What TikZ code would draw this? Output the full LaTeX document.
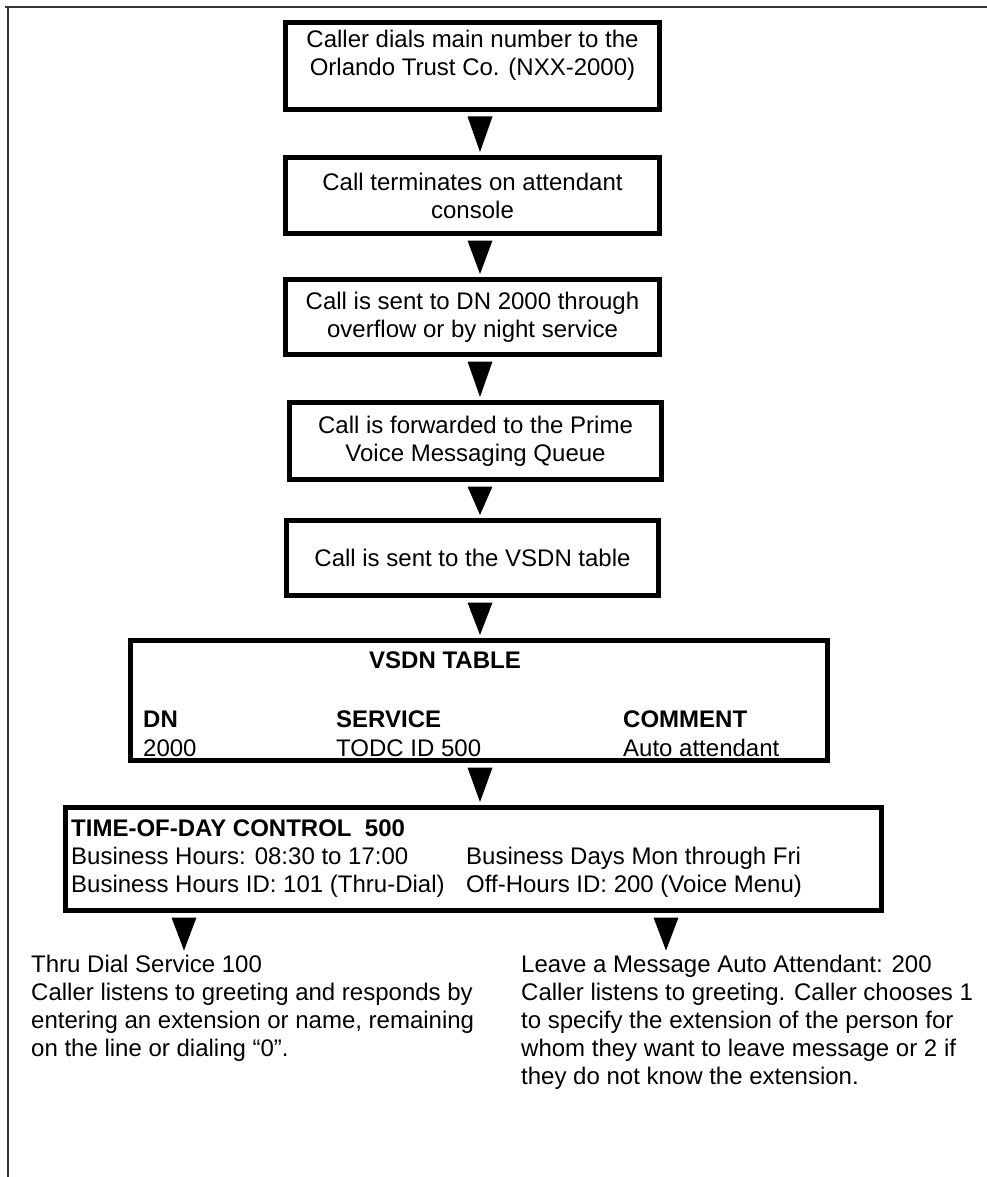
\documentclass[tikz,border=0pt]{standalone}
\usepackage{fontspec}
\setmainfont{Liberation Sans}
\usetikzlibrary{calc}
\begin{document}
\begin{tikzpicture}[x=1pt,y=-1pt,
  basefont/.style={font=\fontsize{24}{28}\selectfont},
  box/.style={draw=black, line width=5pt, align=center, inner sep=0pt, basefont},
  txt/.style={anchor=base west, inner sep=0pt, basefont},
  btxt/.style={anchor=base west, inner sep=0pt, font=\fontsize{24}{28}\selectfont\bfseries},
  para/.style={anchor=north west, align=left, inner sep=0pt, basefont},
  frame/.style={draw=black!80, line width=2.5pt},
  wedge/.style={fill=black}]
\useasboundingbox (0,0) rectangle (987,1177);
% frame
\coordinate (fTL) at (8,7);
\coordinate (fTR) at (987,7);
\coordinate (fBL) at (8,1177);
\draw[frame] ([xshift=-3pt]fTL) -- (fTR);
\draw[frame] (fTL) -- (fBL);
% flow boxes
\node[box, minimum width=374pt, minimum height=87pt] (b1) at (472.5,66)
  {Caller dials main number to the\\Orlando Trust Co. (NXX-2000)\\[-10pt]\strut};
\node[box, minimum width=374pt, minimum height=76pt] (b2) at (472.5,195.5)
  {Call terminates on attendant\\console};
\node[box, minimum width=374pt, minimum height=75pt] (b3) at (472.5,317)
  {Call is sent to DN 2000 through\\overflow or by night service};
\node[box, minimum width=372pt, minimum height=77pt] (b4) at (475.5,441)
  {Call is forwarded to the Prime\\Voice Messaging Queue};
\node[box, minimum width=372pt, minimum height=75pt] (b5) at (472.5,558)
  {Call is sent to the VSDN table};
% VSDN table
\node[box, minimum width=697pt, minimum height=120pt] (vs) at (479,700.5) {};
\node[btxt] (vsT) at (369,668) {VSDN TABLE};
\node[btxt] (vsH1) at (143,727) {DN};
\node[btxt] (vsH2) at (336,727) {SERVICE};
\node[btxt] (vsH3) at (623,727) {COMMENT};
\node[txt] (vsD1) at (143,756) {2000};
\node[txt] (vsD2) at (336,756) {TODC ID 500};
\node[txt] (vsD3) at (623,756) {Auto attendant};
% time of day control
\node[box, minimum width=816pt, minimum height=103pt] (tod) at (473.5,859) {};
\node[btxt] (todT) at (71,836) {TIME-OF-DAY CONTROL\ \ 500};
\node[txt] (todA) at (71,864) {Business Hours: 08:30 to 17:00};
\node[txt] (todB) at (71,892) {Business Hours ID: 101 (Thru-Dial)};
\node[txt] (todC) at (466,864) {Business Days Mon through Fri};
\node[txt] (todD) at (466,892) {Off-Hours ID: 200 (Voice Menu)};
% bottom texts
\node[para] (lt) at (31,954.5) {Thru Dial Service 100\\Caller listens to greeting and responds by\\entering an extension or name, remaining\\on the line or dialing “0”.};
\node[para] (rt) at (521,954.5) {Leave a Message Auto Attendant: 200\\Caller listens to greeting. Caller chooses 1\\to specify the extension of the person for\\whom they want to leave message or 2 if\\they do not know the extension.};
% arrow wedges
\coordinate (ax) at (480,0);
\foreach \a/\b in {b1/b2,b2/b3,b3/b4,b4/b5,b5/vs,vs/tod}
  \fill[wedge] ($(\a.south -| ax)+(-12.5,4.5)$) -- ($(\a.south -| ax)+(12.5,4.5)$) -- ($(\b.north -| ax)+(0,-3)$) -- cycle;
\coordinate (la) at (184,0);
\coordinate (ra) at (666,0);
\fill[wedge] ($(tod.south -| la)+(-12.5,4.5)$) -- ($(tod.south -| la)+(12.5,4.5)$) -- ($(lt.north -| la)+(0,-4)$) -- cycle;
\fill[wedge] ($(tod.south -| ra)+(-12.5,4.5)$) -- ($(tod.south -| ra)+(12.5,4.5)$) -- ($(rt.north -| ra)+(0,-4)$) -- cycle;
\end{tikzpicture}
\end{document}
